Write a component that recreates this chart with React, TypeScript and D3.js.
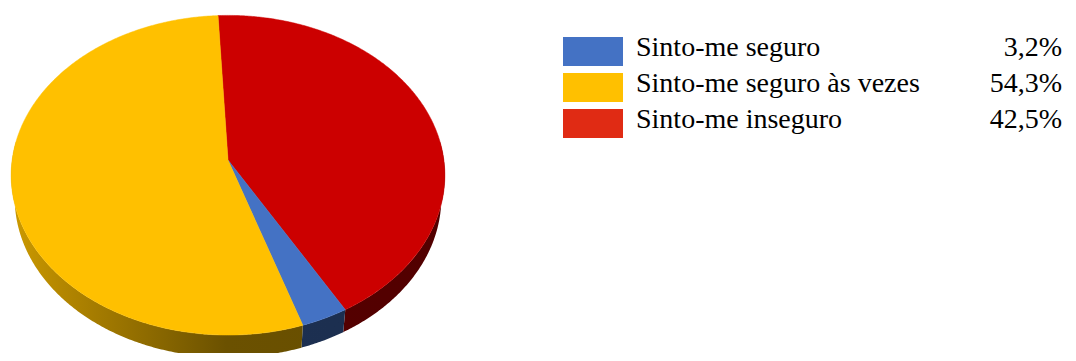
import React from "react";
import * as d3 from "d3";

const categories = ["Sinto-me seguro", "Sinto-me seguro às vezes", "Sinto-me inseguro"];
const values = [3.2, 54.3, 42.5];
const pieColors = ["#4472c4", "#ffc000", "#cc0000"];
const legendColors = ["#4472c4", "#ffc000", "#e02b14"];
// clockwise drawing order starting near 12 o'clock
const drawOrder = [2, 0, 1];

const W = 1076;
const H = 361;

// simple perspective camera for a disc of radius 1
const cx = 228, cy = 160, F = 1539, D = 7.13;
const phi = (47.2 * Math.PI) / 180;
const sn = Math.sin(phi), cs = Math.cos(phi);
const thick = 0.16;

function proj(theta: number, Y: number): [number, number] {
  const X = Math.sin(theta);
  const Z = -Math.cos(theta);
  const depth = D - Y * sn - Z * cs;
  const up = Y * cs - Z * sn;
  return [cx + (F * X) / depth, cy - (F * up) / depth];
}

function shade(hex: string, k: number) {
  const c = d3.rgb(hex);
  return d3.rgb(c.r * k, c.g * k, c.b * k).formatHex();
}

function Pie3D() {
  const pie = d3
    .pie<number>()
    .sort(null)
    .value((i) => values[i])
    .startAngle((-2.9 * Math.PI) / 180)
    .endAngle(2 * Math.PI - (2.9 * Math.PI) / 180);
  const arcs = pie(drawOrder);
  const line = d3.line();
  const step = Math.PI / 360;

  const visA = Math.PI / 2 - 0.12;
  const visB = (3 * Math.PI) / 2 + 0.12;

  const walls: JSX.Element[] = [];
  const tops: JSX.Element[] = [];
  const defs: JSX.Element[] = [];
  arcs.forEach((a) => {
    const idx = a.data;
    const angs = d3.range(a.startAngle, a.endAngle, step).concat([a.endAngle]);
    const w1 = Math.max(a.startAngle, visA);
    const w2 = Math.min(a.endAngle, visB);
    if (w2 > w1) {
      const wa = d3.range(w1, w2, step).concat([w2]);
      const pts: [number, number][] = [
        ...wa.map((t) => proj(t, 0)),
        ...wa.slice().reverse().map((t) => proj(t, -thick)),
      ];
      const gid = `wg${idx}`;
      defs.push(
        <linearGradient key={gid} id={gid} gradientUnits="userSpaceOnUse" x1={12} y1={0} x2={440} y2={0}>
          <stop offset="0" stopColor={shade(pieColors[idx], 0.8)} />
          <stop offset="0.12" stopColor={shade(pieColors[idx], 0.7)} />
          <stop offset="0.5" stopColor={shade(pieColors[idx], 0.42)} />
          <stop offset="1" stopColor={shade(pieColors[idx], 0.4)} />
        </linearGradient>
      );
      walls.push(<path key={`w${idx}`} d={line(pts) + "Z"} fill={`url(#${gid})`} />);
    }
    const topPts: [number, number][] = [[cx, cy], ...angs.map((t) => proj(t, 0))];
    tops.push(
      <path key={`t${idx}`} d={line(topPts) + "Z"} fill={pieColors[idx]} stroke={pieColors[idx]} strokeWidth={0.5} />
    );
  });
  return (
    <svg width={470} height={H} style={{ position: "absolute", left: -8, top: -8 }}>
      <defs>{defs}</defs>
      <g>{walls}</g>
      <g>{tops}</g>
    </svg>
  );
}

function Legend() {
  const y = d3.scaleLinear().domain([0, 2]).range([37, 109]);
  return (
    <svg width={W} height={H} style={{ position: "absolute", left: -8, top: -8 }}>
      {categories.map((c, i) => (
        <rect key={"r" + c} x={563} y={y(i)} width={60} height={29} fill={legendColors[i]} />
      ))}
      {categories.map((c, i) => (
        <text key={"l" + c} x={636} y={y(i) + 19} fontSize={28} fontFamily="Liberation Serif">
          {c}
        </text>
      ))}
      {categories.map((c, i) => (
        <text key={"v" + c} x={1062} y={y(i) + 19} textAnchor="end" fontSize={28} fontFamily="Liberation Serif">
          {values[i].toFixed(1).replace(".", ",") + "%"}
        </text>
      ))}
    </svg>
  );
}

export default function App() {
  return (
    <div style={{ position: "relative", width: W - 16, height: H - 16 }}>
      <Pie3D />
      <Legend />
    </div>
  );
}
